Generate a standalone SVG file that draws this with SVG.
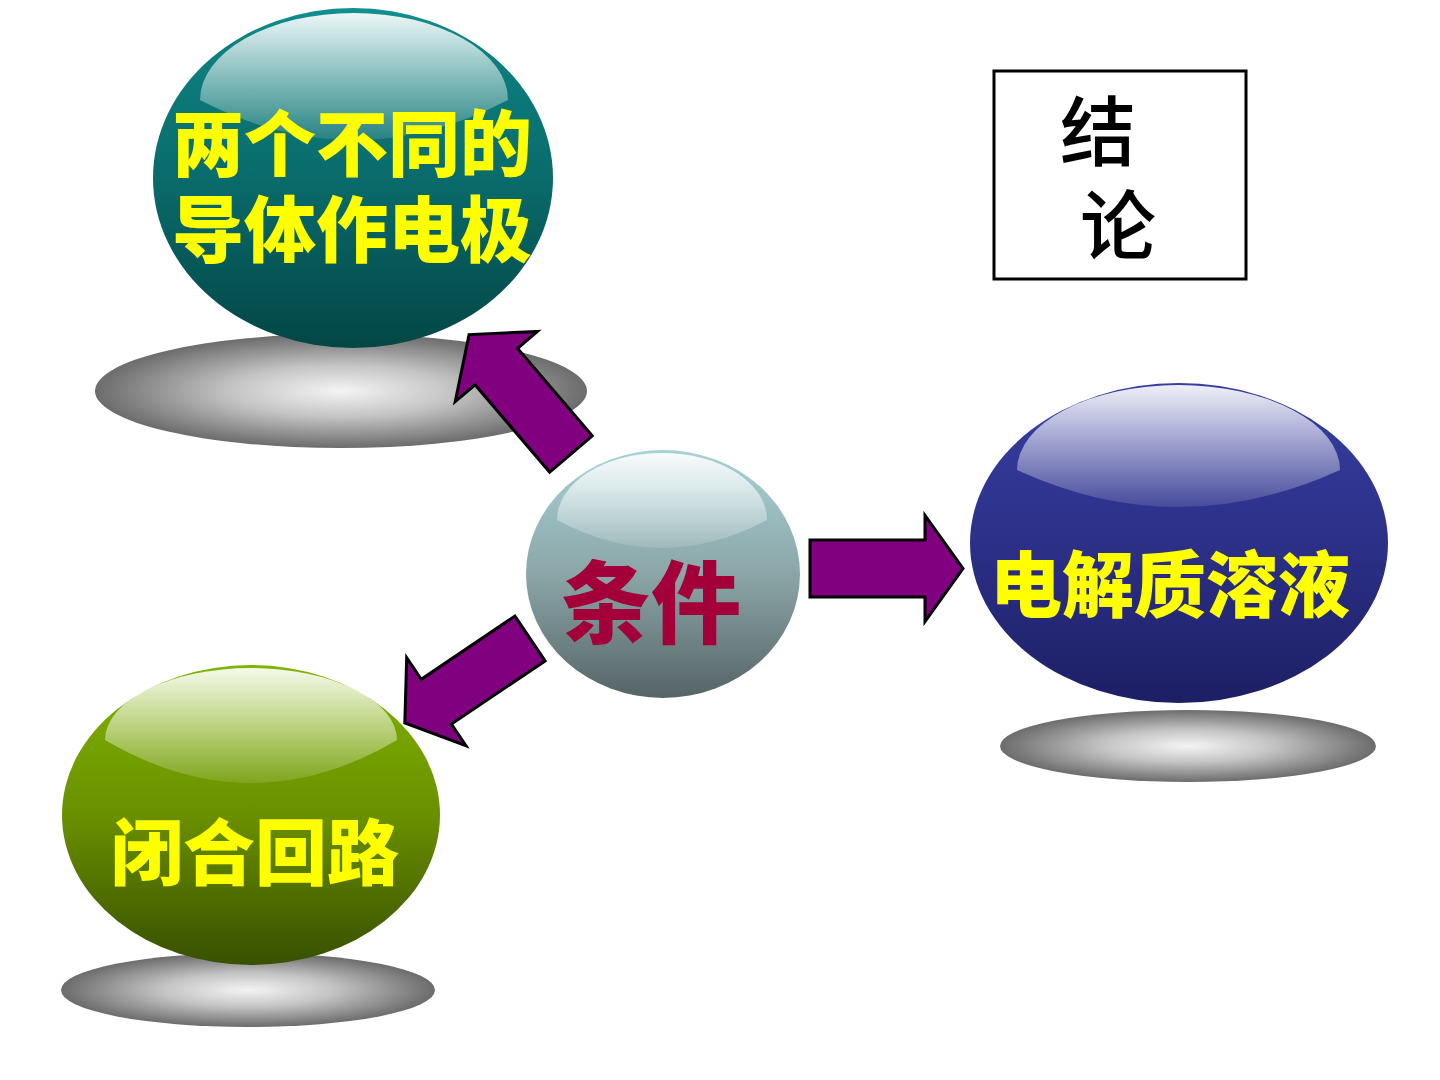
<svg xmlns="http://www.w3.org/2000/svg" width="1440" height="1080" viewBox="0 0 1440 1080">
<defs>
<style>
.lbl{font-family:"Noto Sans CJK SC","Noto Sans CJK JP",sans-serif;font-weight:900;text-anchor:middle}
.yl{fill:#FFFF00}
.arrow{fill:#800080;stroke:#000;stroke-width:3;stroke-linejoin:miter}
.box{fill:#fff;stroke:#000;stroke-width:3}
.boxtxt{font-family:"Noto Sans CJK SC","Noto Sans CJK JP",serif;font-size:76px;font-weight:500;fill:#000}
</style>
<radialGradient id="shadow" cx="0.5" cy="0.5" r="0.5">
<stop offset="0" stop-color="#f4f4f4"/>
<stop offset="0.45" stop-color="#c4c4c4"/>
<stop offset="1" stop-color="#6c6c6c"/>
</radialGradient>
<linearGradient id="gTeal" x1="0" y1="0" x2="0" y2="1">
<stop offset="0" stop-color="#129090"/>
<stop offset="0.1" stop-color="#0e8080"/>
<stop offset="0.5" stop-color="#0a6b6b"/>
<stop offset="1" stop-color="#044646"/>
</linearGradient>
<linearGradient id="gGray" x1="0" y1="0" x2="0" y2="1">
<stop offset="0" stop-color="#a8d2d6"/>
<stop offset="0.5" stop-color="#8ba6a8"/>
<stop offset="1" stop-color="#566466"/>
</linearGradient>
<linearGradient id="gBlue" x1="0" y1="0" x2="0" y2="1">
<stop offset="0" stop-color="#363ea0"/>
<stop offset="0.5" stop-color="#2c3088"/>
<stop offset="1" stop-color="#1d1f64"/>
</linearGradient>
<linearGradient id="gGreen" x1="0" y1="0" x2="0" y2="1">
<stop offset="0" stop-color="#80b400"/>
<stop offset="0.5" stop-color="#6a9000"/>
<stop offset="1" stop-color="#385000"/>
</linearGradient>
<linearGradient id="hl" x1="0" y1="0" x2="0" y2="1">
<stop offset="0" stop-color="#ffffff" stop-opacity="0.92"/>
<stop offset="0.5" stop-color="#ffffff" stop-opacity="0.5"/>
<stop offset="1" stop-color="#ffffff" stop-opacity="0.12"/>
</linearGradient>
</defs>
<rect width="1440" height="1080" fill="#fff"/>

<g id="node-electrodes">
<ellipse cx="341" cy="391" rx="246" ry="57" fill="url(#shadow)"/>
<ellipse cx="353" cy="178" rx="200" ry="170" fill="url(#gTeal)"/>
<path d="M200,100 A154,87 0 0 1 508,100 Q354,180 200,100 Z" fill="url(#hl)"/>
<text class="lbl yl" font-size="72"><tspan x="352" y="170">两个不同的</tspan><tspan x="352" y="256">导体作电极</tspan></text>
</g>

<g id="node-electrolyte">
<ellipse cx="1188" cy="746" rx="188" ry="36" fill="url(#shadow)"/>
<ellipse cx="1179" cy="543" rx="209" ry="160" fill="url(#gBlue)"/>
<path d="M1017,470 A161.5,85 0 0 1 1340,470 Q1178,544 1017,470 Z" fill="url(#hl)"/>
<text class="lbl yl" x="1170" y="611" font-size="72">电解质溶液</text>
</g>

<g id="node-circuit">
<ellipse cx="248" cy="990" rx="187" ry="37" fill="url(#shadow)"/>
<ellipse cx="251" cy="815" rx="189" ry="150" fill="url(#gGreen)"/>
<path d="M105,740 A146,72 0 0 1 397,740 Q251,826 105,740 Z" fill="url(#hl)"/>
<text class="lbl yl" x="255" y="879" font-size="72">闭合回路</text>
</g>

<g id="node-condition">
<ellipse cx="663" cy="574" rx="137" ry="124" fill="url(#gGray)"/>
<path d="M557,520 A105,67 0 0 1 767,520 Q662,576 557,520 Z" fill="url(#hl)"/>
<text class="lbl" x="651" y="636" font-size="90" fill="#A3003A">条件</text>
</g>

<g id="node-conclusion">
<rect class="box" x="994" y="71" width="252" height="208"/>
<text class="boxtxt"><tspan x="1060" y="160">结</tspan><tspan x="1080" y="254">论</tspan></text>
</g>

<g id="connectors">
<path class="arrow" transform="translate(571,454) rotate(-130.5)" d="M0,-28 L115,-28 L115,-54 L157,0 L115,54 L115,28 L0,28 Z"/>
<path class="arrow" transform="translate(530,638.5) rotate(146)" d="M0,-27 L113,-27 L113,-53 L151,0 L113,53 L113,27 L0,27 Z"/>
<path class="arrow" transform="translate(810,568.5)" d="M0,-28.5 L115,-28.5 L115,-53 L153,0 L115,53 L115,28.5 L0,28.5 Z"/>
</g>
</svg>
